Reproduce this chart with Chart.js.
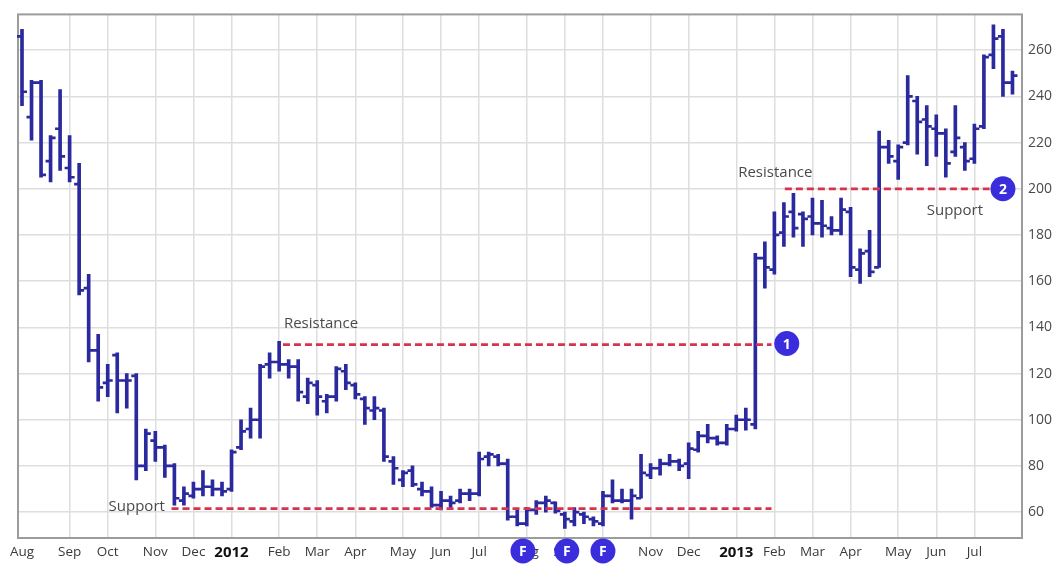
<!DOCTYPE html>
<html>
<head>
<meta charset="utf-8">
<script src="https://cdn.jsdelivr.net/npm/chart.js@4.4.1/dist/chart.umd.min.js"></script>
<style>
  html, body { margin: 0; padding: 0; background: #ffffff; }
  #wrap { width: 1058px; height: 567px; }
</style>
</head>
<body>
<div id="wrap"><canvas id="c" width="1058" height="567"></canvas></div>
<script>
// ---- Weekly OHLC data (Aug 2011 - Jul 2013), index = week number ----
const opens  = [266,231,246,212,226,209,202,157,130,116,128,117,119,80,91,88,80,65,67,70,71,70,70,88,96,100,124,125,124,123,110,115,108,110,121,115,109,104,104,82,74,78,70,69,63,65,65,68,68,84,84,81,58,55,61,64,64,59,56,59,57,55,67,65,65,66,76,79,81,82,81,87,93,92,90,96,100,98,170,165,181,190,189,188,185,183,182,190,165,173,166,218,212,220,238,230,226,224,216,218,213,227,258,266,246];
const highs  = [269,247,247,223,243,223,211,163,137,124,129,120,120,96,95,89,81,71,73,78,74,73,87,100,105,124,129,134,126,126,118,117,111,123,124,116,110,110,105,84,78,80,73,71,69,67,70,70,86,86,85,83,61,62,65,67,64.5,60,62,60,58,69,74,70,70,85,81,83,85,83,90,95,98,93,98,102,105,172,177,190,194,198,190,196,195,188,196,192,174,182,225,221,219,249,240,236,232,226,236,220,228,258,271,269,251];
const lows   = [236,221,205,203,208,203,154,125,108,110,103,105,74,78,82,75,63,63,66,67,67,67,69,87,92,92,118,121,118,108,107,102,103,108,113,109,98,100,82,72,71,71,67,62,61,62,64,65,67,80,80,56.5,54,54,59,60,59.5,53,54,55,54,54,64,64,57,66,74.5,76,80,78,74.5,86,90,89,89,95,95.5,96,157,163,175,179,175,180,179,180,180,162,159,162,166,211,204,219,215,210,214,205,214,208,211,226,252,240,241];
const closes = [242,246,206,222,214,205,156,130,114,117,117,117,80,94,88,80,66,68,70,71,70,69,86,95,100,123,125,124,123,112,116,110,110,122,116,111,105,105,84,79,77,72,69,63,65,64,68,68,83,85,81,58,55,61,64,65,60.5,57,60,58,56,67,65,65,67,77,79,81,82,80,87.5,93,92,90,96,100,100,170,166,180,188,183,187,185,184,182,191,166,172,164,218,214,218,240,229,227,224,211,222,212,226,257,265,246,249];

// ---- Axis tick labels (week index where each month starts) ----
const monthTickIndex  = [0,5,9,14,18,22,27,31,35,40,44,48,53,57,61,66,70,75,79,83,87,92,96,100];
const monthTickLabels = ['Aug','Sep','Oct','Nov','Dec','2012','Feb','Mar','Apr','May','Jun','Jul','Aug','Sep','Oct','Nov','Dec','2013','Feb','Mar','Apr','May','Jun','Jul'];
const priceTicks = [60,80,100,120,140,160,180,200,220,240,260];

// ---- Support / resistance levels and notes ----
const levelValues = [61.5, 132.5, 200];
const levelFrom   = [15.7, 27.4, 80.1];
const levelTo     = [78.7, 78.7, 101.6];
const noteTexts  = ['Support', 'Resistance', 'Resistance', 'Support'];
const noteIndex  = [15.0, 27.5, 75.2, 95.0];
const noteValues = [62.2, 141.6, 206.8, 190.4];
const noteAlign  = ['right', 'left', 'left', 'left'];
const markerTexts  = ['1', '2'];
const markerIndex  = [80.3, 103.0];
const markerValues = [133, 200];
const fMarkerIndex = [52.6, 57.2, 61.0];

const BAR_COLOR = '#2a299e';
const RED = '#d4354c';
const MARK = '#3a2ddc';
const FONT = "'Open Sans', 'DejaVu Sans', sans-serif";

const weekIdx = opens.map((_, i) => i);
const isYear = (ctx) => {
  if (!ctx || !ctx.tick) return false;
  const k = monthTickIndex.indexOf(ctx.tick.value);
  return k >= 0 && /^\d{4}$/.test(monthTickLabels[k]);
};

const ohlcTicks = {
  id: 'ohlcTicks',
  afterDatasetsDraw(chart) {
    const { ctx, scales: { y } } = chart;
    const meta = chart.getDatasetMeta(0);
    ctx.save();
    ctx.strokeStyle = BAR_COLOR;
    ctx.lineWidth = 2.7;
    meta.data.forEach((el, i) => {
      const yo = y.getPixelForValue(opens[i]);
      const yc = y.getPixelForValue(closes[i]);
      ctx.beginPath();
      ctx.moveTo(el.x - 5, yo); ctx.lineTo(el.x, yo);
      ctx.moveTo(el.x, yc); ctx.lineTo(el.x + 5, yc);
      ctx.stroke();
    });
    ctx.restore();
  }
};

const frame = {
  id: 'frame',
  beforeDatasetsDraw(chart) {
    const { ctx, chartArea: a } = chart;
    ctx.save();
    ctx.strokeStyle = '#9c9c9c';
    ctx.lineWidth = 2;
    ctx.strokeRect(a.left, a.top, a.right - a.left, a.bottom - a.top);
    ctx.restore();
  }
};

function drawMarker(ctx, x, y, txt) {
  ctx.beginPath();
  ctx.fillStyle = MARK;
  ctx.arc(x, y, 12.5, 0, Math.PI * 2);
  ctx.fill();
  ctx.fillStyle = '#ffffff';
  ctx.font = "bold 14px " + FONT;
  ctx.textAlign = 'center';
  ctx.textBaseline = 'middle';
  ctx.fillText(txt, x, y + 1);
}

const notes = {
  id: 'notes',
  afterDatasetsDraw(chart) {
    const { ctx, scales: { x, y } } = chart;
    ctx.save();
    ctx.strokeStyle = RED;
    ctx.lineWidth = 2.8;
    ctx.setLineDash([7, 4]);
    levelValues.forEach((v, i) => {
      const py = y.getPixelForValue(v);
      ctx.beginPath();
      ctx.moveTo(x.getPixelForValue(levelFrom[i]), py);
      ctx.lineTo(x.getPixelForValue(levelTo[i]), py);
      ctx.stroke();
    });
    ctx.setLineDash([]);
    ctx.fillStyle = '#4a4a4a';
    ctx.font = "15px " + FONT;
    ctx.textBaseline = 'middle';
    noteTexts.forEach((t, i) => {
      ctx.textAlign = noteAlign[i];
      ctx.fillText(t, x.getPixelForValue(noteIndex[i]), y.getPixelForValue(noteValues[i]));
    });
    markerTexts.forEach((t, i) => {
      drawMarker(ctx, x.getPixelForValue(markerIndex[i]), y.getPixelForValue(markerValues[i]), t);
    });
    ctx.restore();
  },
  afterDraw(chart) {
    const { ctx, scales: { x }, chartArea: a } = chart;
    ctx.save();
    fMarkerIndex.forEach(ix => drawMarker(ctx, x.getPixelForValue(ix), a.bottom + 13, 'F'));
    ctx.restore();
  }
};

new Chart(document.getElementById('c'), {
  type: 'bar',
  data: {
    datasets: [{
      data: weekIdx.map(i => ({ x: i, y: [lows[i], highs[i]] })),
      backgroundColor: BAR_COLOR,
      borderWidth: 0,
      barThickness: 3,
      grouped: false
    }]
  },
  options: {
    responsive: false,
    animation: false,
    devicePixelRatio: 1,
    layout: { padding: { left: 18, top: 12, right: 0, bottom: 0 } },
    plugins: { legend: { display: false }, tooltip: { enabled: false } },
    scales: {
      x: {
        type: 'linear',
        offset: false,
        min: -0.42,
        max: 105.0,
        grid: {
          offset: false,
          drawTicks: false,
          lineWidth: 1.5,
          color: ctx => (ctx.tick && ctx.tick.value === 0) ? 'rgba(0,0,0,0)' : '#dedede'
        },
        border: { display: false },
        afterBuildTicks: s => { s.ticks = monthTickIndex.map(v => ({ value: v })); },
        afterFit: s => { s.height = 29; },
        ticks: {
          autoSkip: false,
          maxRotation: 0,
          padding: 6,
          callback: (v) => { const k = monthTickIndex.indexOf(v); return k >= 0 ? monthTickLabels[k] : ''; },
          color: ctx => isYear(ctx) ? '#111111' : '#3a3a3a',
          font: ctx => isYear(ctx)
            ? { family: FONT, size: 15, weight: 'bold' }
            : { family: FONT, size: 13.5 }
        }
      },
      y: {
        position: 'right',
        min: 48.8,
        max: 275.5,
        grid: { drawTicks: false, lineWidth: 1.5, color: '#dedede' },
        border: { display: false },
        afterBuildTicks: s => { s.ticks = priceTicks.map(v => ({ value: v })); },
        afterFit: s => { s.width = 36; },
        ticks: {
          padding: 6,
          color: '#4a4a4a',
          font: { family: FONT, size: 14 }
        }
      }
    }
  },
  plugins: [frame, ohlcTicks, notes]
});
</script>
</body>
</html>
